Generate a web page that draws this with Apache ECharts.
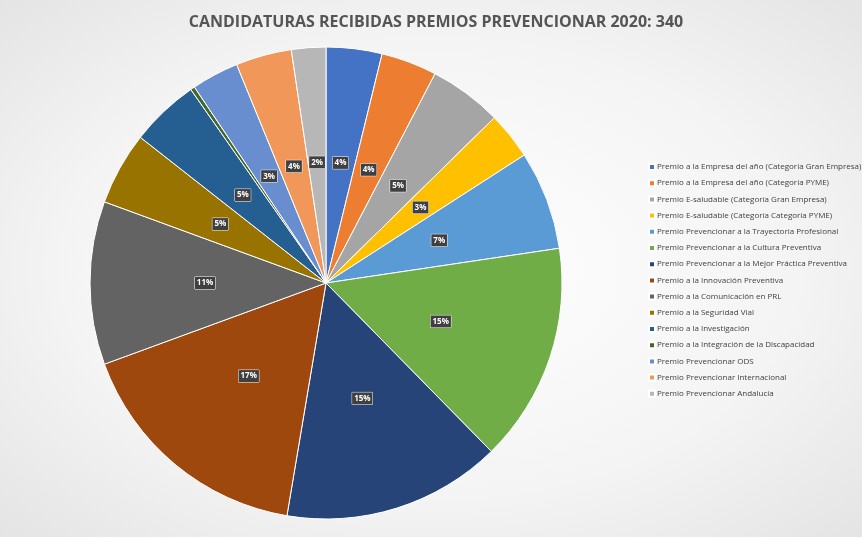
<!DOCTYPE html>
<html>
<head>
<meta charset="utf-8">
<script src="https://cdn.jsdelivr.net/npm/echarts@6/dist/echarts.min.js"></script>
<style>
html,body{margin:0;padding:0;}
#chart{width:862px;height:537px;background:radial-gradient(ellipse at center,#ffffff 0%,#f4f4f4 60%,#e4e4e4 100%);}
</style>
</head>
<body>
<div id="chart"></div>
<script>
const categories = [
  'Premio a la Empresa del año (Categoría Gran Empresa)',
  'Premio a la Empresa del año (Categoría PYME)',
  'Premio E-saludable (Categoría Gran Empresa)',
  'Premio E-saludable (Categoría Categoría PYME)',
  'Premio Prevencionar a la Trayectoria Profesional',
  'Premio Prevencionar a la Cultura Preventiva',
  'Premio Prevencionar a la Mejor Práctica Preventiva',
  'Premio a la Innovación Preventiva',
  'Premio a la Comunicación en PRL',
  'Premio a la Seguridad Vial',
  'Premio a la Investigación',
  'Premio a la Integración de la Discapacidad',
  'Premio Prevencionar ODS',
  'Premio Prevencionar Internacional',
  'Premio Prevencionar Andalucía'
];
const values = [13, 13, 17, 11, 23, 51, 51, 57, 38, 17, 16, 1, 11, 13, 8];
const colors = ['#4472C4','#ED7D31','#A5A5A5','#FFC000','#5B9BD5','#70AD47','#264478','#9E480E',
  '#636363','#997300','#255E91','#43682B','#698ED0','#F1975A','#B7B7B7'];

const chart = echarts.init(document.getElementById('chart'));
chart.setOption({
  color: colors,
  animation: false,
  title: {
    text: 'CANDIDATURAS RECIBIDAS PREMIOS PREVENCIONAR 2020: 340',
    left: 431, top: 9, textAlign: 'center',
    textStyle: { fontFamily: 'Open Sans', fontSize: 16, fontWeight: 'bold', color: '#555' }
  },
  legend: {
    orient: 'vertical', left: 643, top: 158,
    itemWidth: 6, itemHeight: 6, itemGap: 8.2, icon: 'rect',
    textStyle: { fontFamily: 'Open Sans', fontSize: 8, color: '#404040', padding: [0, 0, 0, -3] }
  },
  series: [{
    type: 'pie',
    center: [326, 283],
    radius: 236,
    startAngle: 90,
    clockwise: true,
    itemStyle: { borderColor: '#fff', borderWidth: 1 },
    label: {
      position: 'inside',
      formatter: p => Math.round(p.percent) + '%',
      backgroundColor: '#404040',
      color: '#fff', fontFamily: 'Open Sans', fontSize: 8, fontWeight: 'bold',
      padding: [2, 2], borderColor: '#fff', borderWidth: 0.5
    },
    labelLine: { show: false },
    data: categories.map((c, i) => ({ name: c, value: values[i] }))
  }]
});
</script>
</body>
</html>
